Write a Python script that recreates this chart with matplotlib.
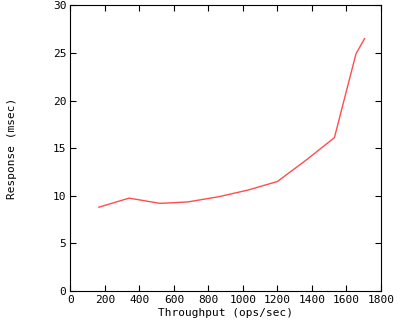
# Response time vs throughput (gnuplot-style look)

import matplotlib.pyplot as plt

# Data
throughput = [165, 340, 520, 680, 860, 1030, 1200, 1370, 1530, 1655, 1705]
response = [8.8, 9.75, 9.2, 9.35, 9.9, 10.6, 11.5, 13.8, 16.1, 24.9, 26.5]
xticks = [0, 200, 400, 600, 800, 1000, 1200, 1400, 1600, 1800]
yticks = [0, 5, 10, 15, 20, 25, 30]

plt.rcParams['font.family'] = 'DejaVu Sans Mono'
plt.rcParams['font.size'] = 8

fig = plt.figure(figsize=(4, 3.2), dpi=100)
ax = fig.add_axes([0.176, 0.0906, 0.7765, 0.893])

ax.plot(throughput, response, color='#ff4d4d', linewidth=1)

ax.set_xlim(0, 1800)
ax.set_ylim(0, 30)
ax.set_xticks(xticks)
ax.set_yticks(yticks)
ax.tick_params(direction='in', length=4.3, width=0.8, top=True, right=True, pad=3)
for s in ax.spines.values():
    s.set_linewidth(0.8)

ax.set_xlabel('Throughput (ops/sec)', labelpad=2)
ax.set_ylabel('Response (msec)', labelpad=26)

plt.savefig('out.png', dpi=100)
